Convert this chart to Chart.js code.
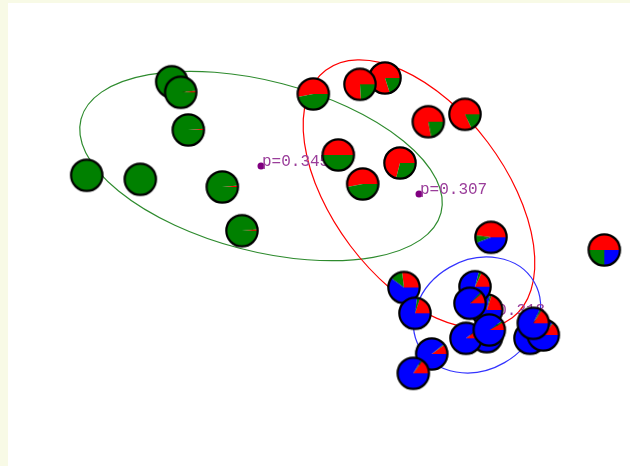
<!DOCTYPE html>
<html>
<head>
<meta charset="utf-8">
<script src="https://cdn.jsdelivr.net/npm/chart.js@4.4.1/dist/chart.umd.min.js"></script>
<style>
html,body{margin:0;padding:0;background:#fff;}
#wrap{width:630px;height:466px;}
</style>
</head>
<body>
<div id="wrap"><canvas id="c" width="630" height="466"></canvas></div>
<script>
// ---- data (arbitrary map units) ----
const groupNames = ['A', 'B', 'C'];
// group A (green)
const aX = [1.717, 1.807, 1.883, 0.867, 1.403, 2.223, 2.420];
const aY = [3.843, 3.737, 3.360, 2.907, 2.867, 2.790, 2.353];
const aRed   = [0.000, 0.015, 0.012, 0.000, 0.000, 0.015, 0.015];
const aGreen = [1.000, 0.985, 0.988, 1.000, 1.000, 0.985, 0.985];
const aBlue  = [0, 0, 0, 0, 0, 0, 0];
// group B (red)
const bX = [3.133, 3.850, 3.600, 4.283, 4.650, 3.383, 3.627, 4.000];
const bY = [3.720, 3.880, 3.817, 3.443, 3.517, 3.110, 2.820, 3.030];
const bRed   = [0.53, 0.80, 0.76, 0.78, 0.82, 0.50, 0.53, 0.71];
const bGreen = [0.47, 0.20, 0.24, 0.22, 0.18, 0.50, 0.47, 0.29];
const bBlue  = [0, 0, 0, 0, 0, 0, 0, 0];
// group C (blue)
const cX = [4.910, 6.043, 4.040, 4.150, 4.317, 4.133, 4.867, 4.750, 4.700, 4.867, 4.660, 4.893, 5.300, 5.433, 5.333];
const cY = [2.287, 2.160, 1.785, 1.527, 1.120, 0.927, 1.560, 1.793, 1.627, 1.293, 1.277, 1.360, 1.277, 1.310, 1.427];
const cRed   = [0.48, 0.50, 0.27, 0.20, 0.10, 0.15, 0.20, 0.18, 0.11, 0.10, 0.10, 0.08, 0.10, 0.14, 0.16];
const cGreen = [0.08, 0.25, 0.13, 0.03, 0.01, 0.015, 0.02, 0.03, 0.02, 0.01, 0.01, 0.02, 0.01, 0.01, 0.02];
const cBlue  = [0.44, 0.25, 0.60, 0.77, 0.89, 0.835, 0.78, 0.79, 0.87, 0.89, 0.89, 0.90, 0.89, 0.85, 0.82];
// centroids and dispersion ellipses
const centroidX = [2.61, 4.19, 4.77];
const centroidY = [3.00, 2.72, 1.51];
const centroidLabels = ['p=0.345', 'p=0.307', 'p=0.318'];
const ellipseA = [1.86, 1.55, 0.66];
const ellipseB = [0.85, 0.86, 0.55];
const ellipseAngleDeg = [14.6, 53, -30];

// ---- styles ----
const sliceColors = ['#ff0000', '#008000', '#0000ff'];
const ellipseColors = ['#2e8b2e', '#ff0000', '#3333ff'];
const PIE_R = 15.7;

function makePie(r, g, b) {
  const cv = document.createElement('canvas');
  cv.width = 38; cv.height = 38;
  const ctx = cv.getContext('2d');
  const cx = 19, cy = 19;
  const parts = [r, g, b];
  let cum = 0;
  parts.forEach((p, i) => {
    if (p <= 0) return;
    const start = -cum * 2 * Math.PI;
    const end = -(cum + p) * 2 * Math.PI;
    ctx.beginPath();
    ctx.moveTo(cx, cy);
    ctx.arc(cx, cy, PIE_R, start, end, true);
    ctx.closePath();
    ctx.fillStyle = sliceColors[i];
    ctx.fill();
    cum += p;
  });
  ctx.beginPath();
  ctx.arc(cx, cy, PIE_R, 0, 2 * Math.PI);
  ctx.lineWidth = 2.2;
  ctx.strokeStyle = '#000';
  ctx.stroke();
  return cv;
}

function buildDataset(xs, ys, rs, gs, bs) {
  return {
    data: xs.map((x, i) => ({x: x, y: ys[i]})),
    pointStyle: xs.map((x, i) => makePie(rs[i], gs[i], bs[i])),
    pointRadius: 16,
    pointHoverRadius: 16,
    showLine: false,
    clip: false
  };
}

const bgPlugin = {
  id: 'bg',
  beforeDraw(chart) {
    const ctx = chart.ctx;
    ctx.save();
    ctx.fillStyle = '#f8fae6';
    ctx.fillRect(0, 0, chart.width, chart.height);
    ctx.fillStyle = '#ffffff';
    ctx.fillRect(8, 3, chart.width - 8, chart.height - 3);
    ctx.restore();
  }
};

const ellipsePlugin = {
  id: 'ellipses',
  beforeDatasetsDraw(chart) {
    const ctx = chart.ctx;
    const xs = chart.scales.x, ys = chart.scales.y;
    const pxPerX = Math.abs(xs.getPixelForValue(1) - xs.getPixelForValue(0));
    ctx.save();
    for (let i = 0; i < centroidX.length; i++) {
      const px = xs.getPixelForValue(centroidX[i]);
      const py = ys.getPixelForValue(centroidY[i]);
      ctx.beginPath();
      ctx.ellipse(px, py, ellipseA[i] * pxPerX, ellipseB[i] * pxPerX, ellipseAngleDeg[i] * Math.PI / 180, 0, 2 * Math.PI);
      ctx.strokeStyle = ellipseColors[i];
      ctx.lineWidth = 1.2;
      ctx.stroke();
    }
    for (let i = 0; i < centroidX.length; i++) {
      const px = xs.getPixelForValue(centroidX[i]);
      const py = ys.getPixelForValue(centroidY[i]);
      ctx.beginPath();
      ctx.arc(px, py, 3.5, 0, 2 * Math.PI);
      ctx.fillStyle = '#800080';
      ctx.fill();
      ctx.font = '16px "Liberation Mono", monospace';
      ctx.fillStyle = '#9a3d9a';
      ctx.textBaseline = 'alphabetic';
      ctx.textAlign = 'left';
      ctx.fillText(centroidLabels[i], px + 1, py);
    }
    ctx.restore();
  }
};

new Chart(document.getElementById('c'), {
  type: 'scatter',
  data: {
    datasets: [
      buildDataset(cX, cY, cRed, cGreen, cBlue),
      buildDataset(bX, bY, bRed, bGreen, bBlue),
      buildDataset(aX, aY, aRed, aGreen, aBlue)
    ]
  },
  options: {
    responsive: false,
    animation: false,
    layout: {padding: 0, autoPadding: false},
    plugins: {legend: {display: false}, tooltip: {enabled: false}},
    events: [],
    scales: {
      x: {type: 'linear', min: 0, max: 6.3, display: false},
      y: {type: 'linear', min: 0, max: 4.66, display: false}
    }
  },
  plugins: [bgPlugin, ellipsePlugin]
});
</script>
</body>
</html>
